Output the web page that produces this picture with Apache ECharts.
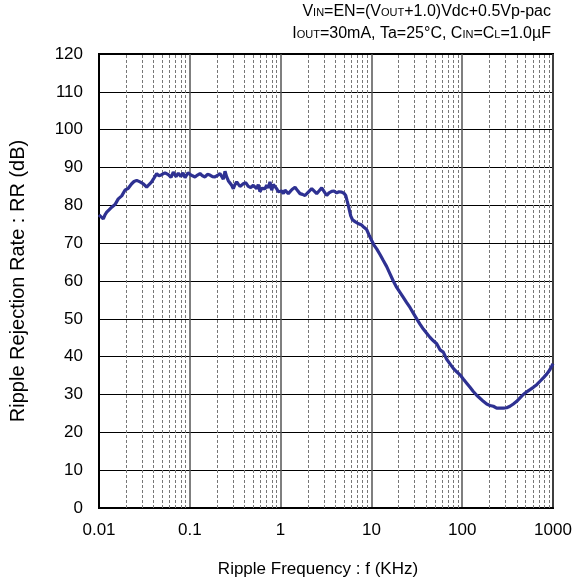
<!DOCTYPE html>
<html>
<head>
<meta charset="utf-8">
<script src="https://cdn.jsdelivr.net/npm/echarts@6/dist/echarts.min.js"></script>
<style>
  html, body { margin: 0; padding: 0; background: #fff; }
  #chart { width: 576px; height: 587px; }
</style>
</head>
<body>
<div id="chart"></div>
<script>
// ripple frequency (kHz)
var freq = [
  0.0100, 0.0105, 0.01115, 0.01164, 0.01216, 0.0129, 0.0138, 0.0150, 0.0163, 0.0178,
  0.0193, 0.0210, 0.0229, 0.0243, 0.0260, 0.0283, 0.0308, 0.0335, 0.0356, 0.0380,
  0.0403, 0.0432, 0.0458, 0.0490, 0.0533, 0.0580, 0.0621, 0.0658, 0.0705, 0.0747,
  0.0799, 0.0841, 0.0886, 0.0955, 0.1005, 0.107, 0.114, 0.1216, 0.1296, 0.138,
  0.147, 0.1566, 0.1667, 0.1777, 0.1895, 0.2018, 0.215, 0.2339, 0.2442, 0.2548,
  0.2654, 0.2772, 0.2893, 0.3015, 0.3146, 0.3284, 0.342, 0.357, 0.3728, 0.388,
  0.4126, 0.4406, 0.4686, 0.5004, 0.522, 0.5454, 0.568, 0.5929, 0.619, 0.6447,
  0.673, 0.703, 0.7318, 0.7638, 0.798, 0.831, 0.8675, 0.906, 0.943, 0.985,
  1.028, 1.071, 1.118, 1.167, 1.216, 1.269, 1.335, 1.441, 1.535, 1.636,
  1.742, 1.857, 2.018, 2.2, 2.333, 2.497, 2.648, 2.836, 3.006, 3.219,
  3.412, 3.655, 3.873, 4.15, 4.396, 4.709, 4.989, 5.21, 5.383, 5.567,
  5.74, 5.92, 6.19, 6.597, 7.118, 7.82, 8.28, 8.87, 9.41, 10.07,
  10.68, 11.43, 12.44, 13.52, 14.74, 16.03, 17.42, 18.99, 20.65, 22.45,
  24.47, 26.6, 28.94, 31.55, 34.28, 37.3, 40.64, 44.2, 48.08, 52.4,
  56.95, 61.94, 67.5, 73.4, 79.8, 87, 94.6, 102.8, 112.1, 121.9,
  132.5, 144.4, 157, 170.8, 186.1, 202.3, 220.1, 239.9, 260.8, 283.6,
  309, 336, 365.6, 398.5, 433.2, 471, 513.4, 558.5, 607, 661.5,
  719.3, 781.9, 852.4, 926.8, 1000
];
// ripple rejection rate (dB)
var rr = [
  77.5, 77.0, 76.4, 77.5, 78.2, 78.8, 79.5, 80.2, 81.7, 82.5,
  84.0, 84.5, 85.7, 86.3, 86.6, 86.2, 85.7, 84.8, 85.5, 86.2,
  87.2, 88.4, 87.8, 88.1, 88.6, 88.1, 87.4, 88.8, 87.6, 88.5,
  87.6, 88.6, 87.3, 88.6, 88.2, 87.8, 87.5, 88.0, 88.4, 87.8,
  87.5, 88.2, 88.0, 87.6, 87.5, 87.9, 88.4, 86.9, 89.0, 87.5,
  86.5, 87.0, 85.3, 84.4, 85.5, 86.2, 85.6, 85.0, 84.8, 85.7,
  86.0, 85.0, 84.7, 85.3, 85.0, 84.4, 85.5, 83.6, 84.5, 85.0,
  84.4, 85.3, 84.6, 86.2, 84.0, 85.5, 85.3, 84.4, 83.6, 84.0,
  83.8, 83.1, 84.0, 84.0, 83.1, 83.6, 84.2, 84.8, 83.9, 83.1,
  82.9, 82.6, 83.5, 84.4, 83.8, 83.1, 83.8, 84.6, 83.7, 82.6,
  83.3, 83.7, 83.8, 83.3, 83.6, 83.5, 83.2, 82.6, 81.3, 80.0,
  78.6, 77.2, 76.2, 75.7, 75.2, 74.8, 74.2, 73.6, 72.2, 70.7,
  69.5, 68.5, 67.0, 65.4, 63.8, 61.9, 60.0, 58.3, 57.0, 55.7,
  54.3, 53.0, 51.5, 50.0, 48.6, 47.3, 46.2, 45.1, 44.2, 43.4,
  41.8, 41.2, 39.3, 38.1, 36.9, 36.0, 35.2, 34.1, 33.0, 31.9,
  30.8, 29.8, 29.0, 28.2, 27.5, 27.1, 26.9, 26.4, 26.4, 26.4,
  26.5, 26.9, 27.5, 28.2, 29.1, 30.0, 30.7, 31.3, 31.9, 32.6,
  33.5, 34.4, 35.4, 36.6, 38.1
];
var xTicks = [0.01, 0.1, 1, 10, 100, 1000];
var yTicks = [0, 10, 20, 30, 40, 50, 60, 70, 80, 90, 100, 110, 120];

// dashed minor lines at 2..9 of each decade
var minorLines = [];
xTicks.slice(0, -1).forEach(function (d) {
  for (var m = 2; m <= 9; m++) {
    minorLines.push({ xAxis: +(d * m).toPrecision(3) });
  }
});

var font = 'Liberation Sans, Arial, sans-serif';
var small = { fontSize: 11, fontFamily: font, verticalAlign: 'bottom', padding: [0, 0, 2, 0] };
var chart = echarts.init(document.getElementById('chart'));

chart.setOption({
  animation: false,
  grid: {
    left: 99,
    right: 23,
    top: 54,
    bottom: 79,
    show: true,
    borderColor: '#000',
    borderWidth: 2
  },
  graphic: [
    {
      type: 'text',
      right: 25,
      top: 4,
      style: {
        text: 'V{s|IN}=EN=(V{s|OUT}+1.0)Vdc+0.5Vp-pac',
        font: '16px ' + font,
        fill: '#000',
        rich: { s: small }
      }
    },
    {
      type: 'text',
      right: 25,
      top: 26,
      style: {
        text: 'I{s|OUT}=30mA, Ta=25°C, C{s|IN}=C{s|L}=1.0µF',
        font: '16px ' + font,
        fill: '#000',
        rich: { s: small }
      }
    }
  ],
  xAxis: {
    type: 'log',
    logBase: 10,
    min: 0.01,
    max: 1000,
    name: 'Ripple Frequency : f (KHz)',
    nameLocation: 'middle',
    nameGap: 53,
    nameTextStyle: { fontSize: 17, fontFamily: font, color: '#000', padding: [0, 16, 0, 0] },
    axisLine: { show: true, lineStyle: { color: '#000', width: 2 } },
    axisTick: { show: false },
    axisLabel: {
      fontSize: 17,
      fontFamily: font,
      color: '#000',
      margin: 14,
      formatter: function (v) { return String(v); }
    },
    splitLine: { show: true, lineStyle: { color: '#555', width: 1.5 } }
  },
  yAxis: {
    type: 'value',
    min: 0,
    max: 120,
    interval: 10,
    name: 'Ripple Rejection Rate : RR (dB)',
    nameLocation: 'middle',
    nameGap: 71,
    nameTextStyle: { fontSize: 20, fontFamily: font, color: '#000' },
    axisLine: { show: true, lineStyle: { color: '#000', width: 2 } },
    axisTick: { show: false },
    axisLabel: { fontSize: 17, fontFamily: font, color: '#000', margin: 16 },
    splitLine: { show: true, lineStyle: { color: '#000', width: 1 } }
  },
  series: [
    {
      type: 'line',
      data: [],
      silent: true,
      markLine: {
        silent: true,
        symbol: 'none',
        label: { show: false },
        lineStyle: { color: '#777', width: 1, type: [3, 2] },
        data: minorLines
      },
      z: 1
    },
    {
      name: 'RR',
      type: 'line',
      showSymbol: false,
      data: freq.map(function (f, i) { return [f, rr[i]]; }),
      lineStyle: { color: '#2e3192', width: 3.2 },
      z: 5
    }
  ]
});
</script>
</body>
</html>
